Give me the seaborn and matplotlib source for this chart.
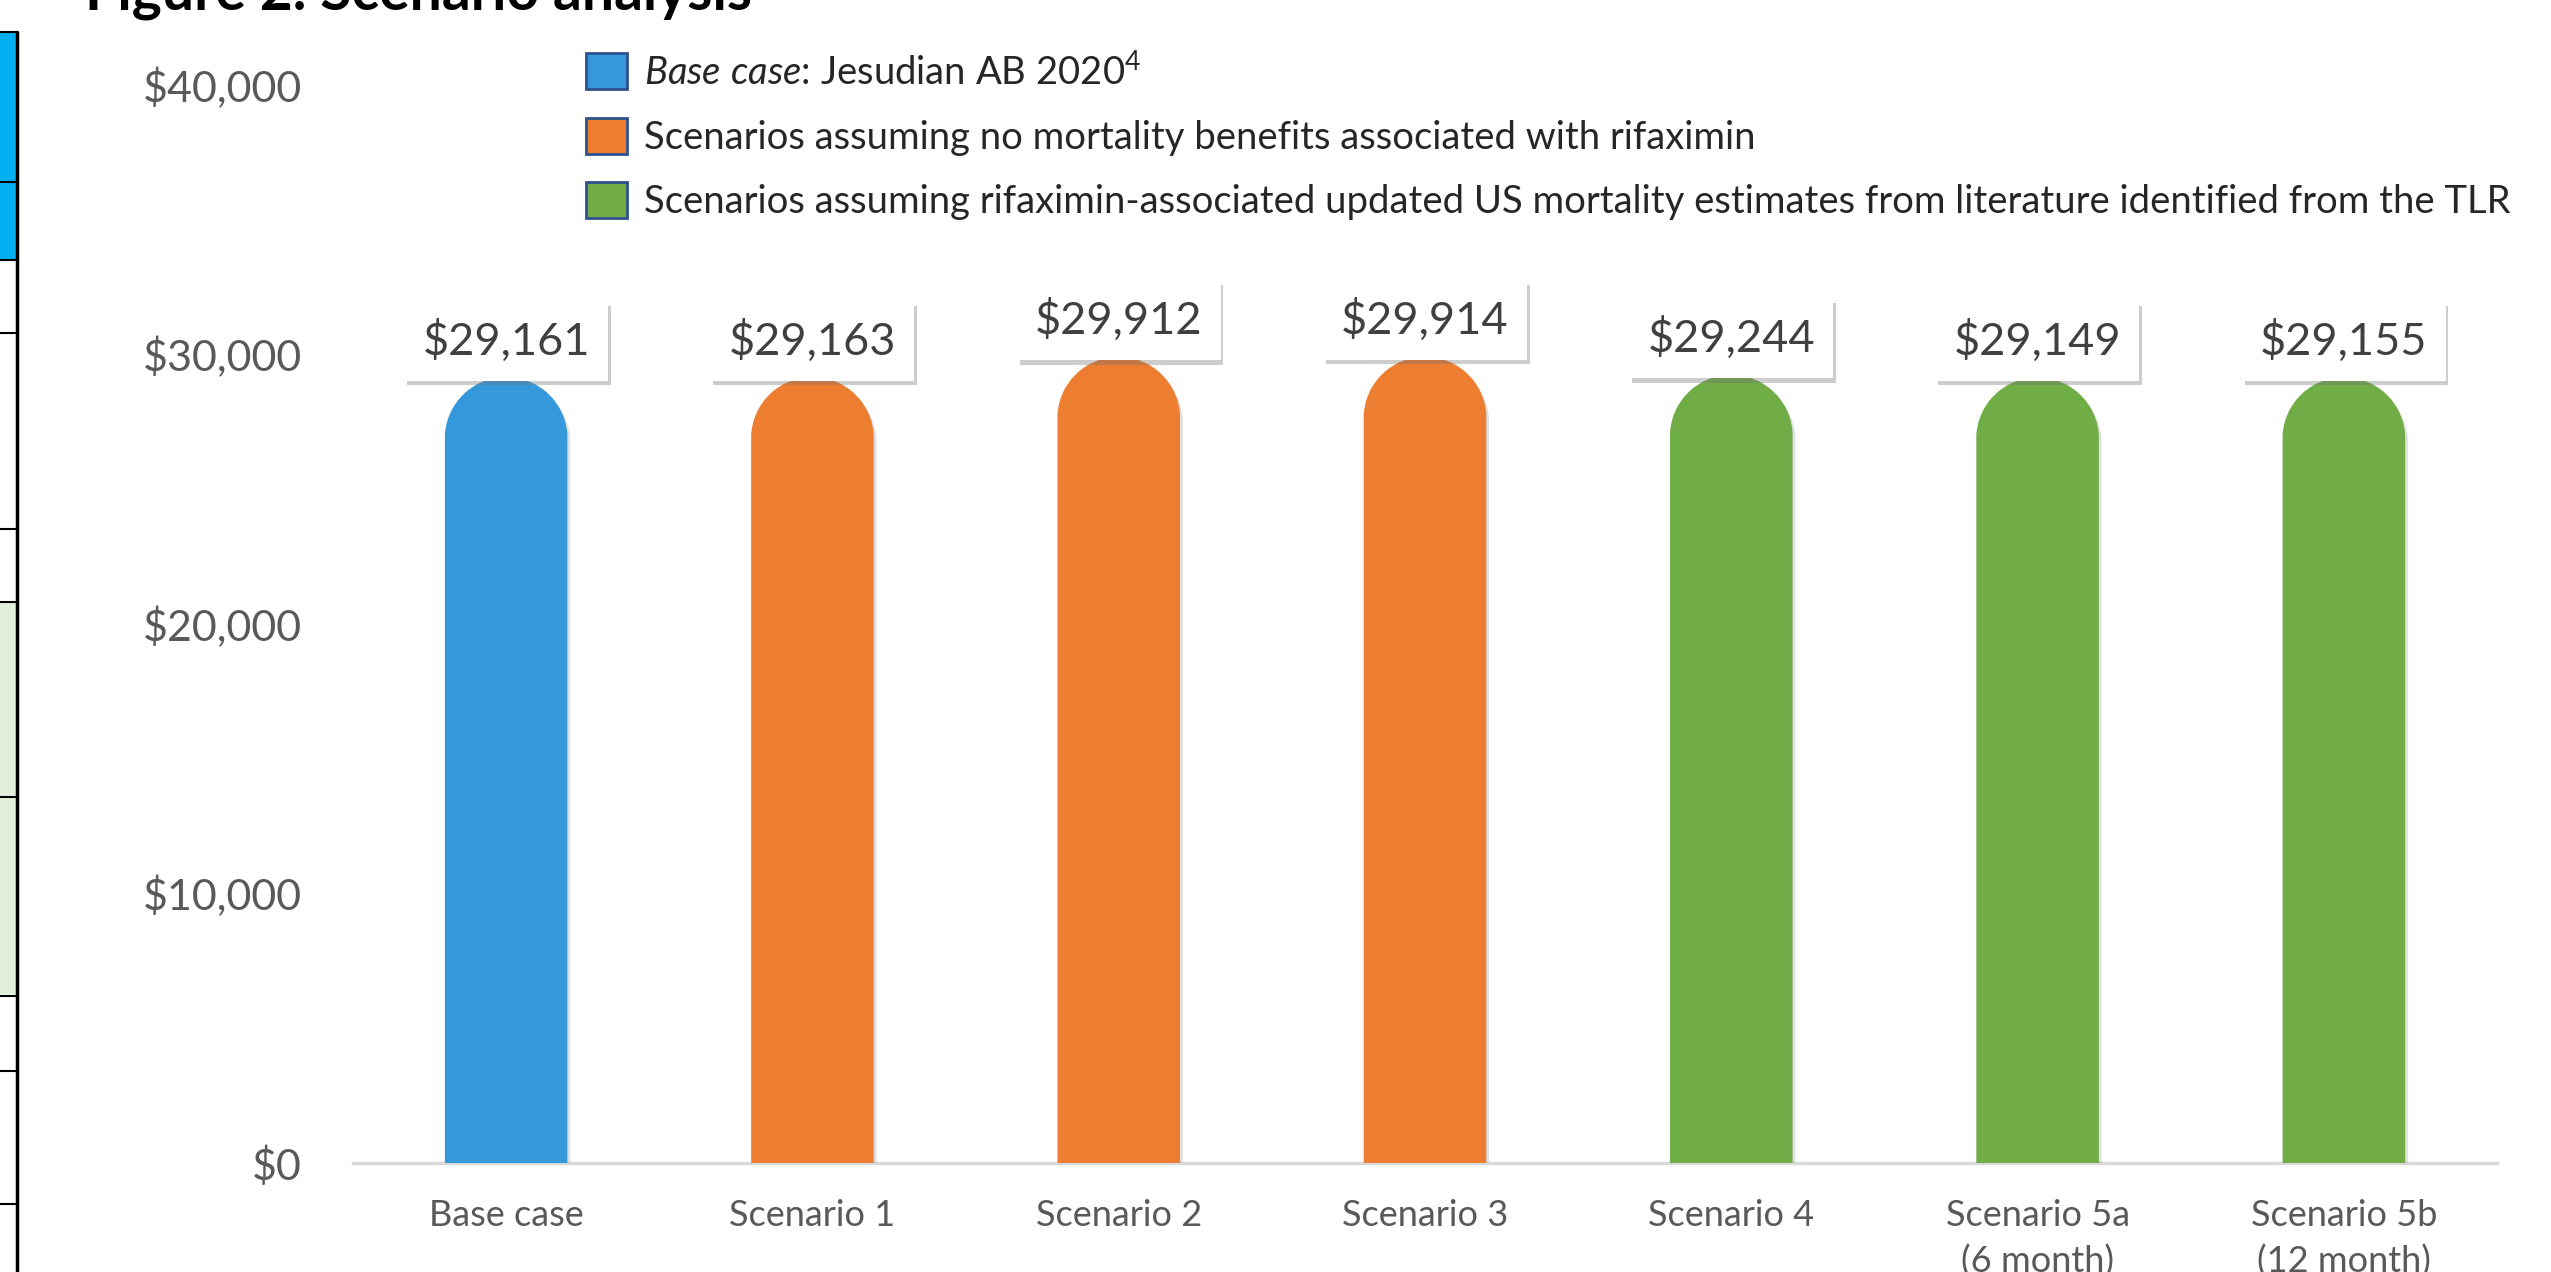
import numpy as np
import pandas as pd
import seaborn as sns
import matplotlib
matplotlib.use("Agg")
import matplotlib.pyplot as plt
from matplotlib.patches import Patch, PathPatch, Rectangle
from matplotlib.path import Path
from matplotlib.transforms import Affine2D
import matplotlib.patheffects as pe
from matplotlib.ticker import FixedLocator, FuncFormatter

# ---------------- data ----------------
categories = ["Base case", "Scenario 1", "Scenario 2", "Scenario 3",
              "Scenario 4", "Scenario 5a\n(6 month)", "Scenario 5b\n(12 month)"]
values = [29161, 29163, 29912, 29914, 29244, 29149, 29155]
groups = ["base", "nomort", "nomort", "nomort", "updated", "updated", "updated"]
group_colors = {"base": "#3498DB", "nomort": "#ED7D31", "updated": "#70AD47"}
legend_labels = [r"$\mathit{Base\ case}$: Jesudian AB 2020$^{4}$",
                 "Scenarios assuming no mortality benefits associated with rifaximin",
                 "Scenarios assuming rifaximin-associated updated US mortality estimates from literature identified from the TLR"]
y_ticks = [0, 10000, 20000, 30000, 40000]
title = "Figure 2. Scenario analysis"

# ---------------- style ----------------
sns.set_theme(style="white")
FONT = "Lato"
plt.rcParams["font.family"] = [FONT, "DejaVu Sans"]
plt.rcParams["mathtext.fontset"] = "custom"
plt.rcParams["mathtext.rm"] = FONT
plt.rcParams["mathtext.it"] = FONT + ":italic"
plt.rcParams["mathtext.bf"] = FONT + ":bold"

W, H, DPI = 2551, 1272, 100
fig = plt.figure(figsize=(W / DPI, H / DPI), dpi=DPI)
fig.patch.set_facecolor("white")
ax = fig.add_axes([353 / W, 1 - 1163 / H, (2497 - 353) / W, (1163 - 85) / H])

df = pd.DataFrame({"cat": categories, "val": values, "grp": groups})
sns.barplot(data=df, x="cat", y="val", hue="grp", palette=group_colors,
            dodge=False, width=0.4, legend=False, ax=ax, saturation=1)

ax.set_xlim(-0.5, len(categories) - 0.5)
ax.set_ylim(0, 40000)
ax.set_xlabel("")
ax.set_ylabel("")

# rounded-top bars
fig.canvas.draw()
px_per_y = (ax.transData.transform((0, 1)) - ax.transData.transform((0, 0)))[1]
px_per_x = (ax.transData.transform((1, 0)) - ax.transData.transform((0, 0)))[0]
rects = [p for p in list(ax.patches) if p.get_height() > 0 and p.get_width() > 0]
for r in rects:
    x0, w, h = r.get_x(), r.get_width(), r.get_height()
    fc = r.get_facecolor()
    ry = (w * px_per_x / 2) / px_per_y
    arc = Path.arc(0, 180, n=16)
    arc = arc.transformed(Affine2D().scale(w / 2, ry).translate(x0 + w / 2, h - ry))
    verts = [(x0, 0), (x0 + w, 0), (x0 + w, h - ry)] + list(arc.vertices[1:]) + [(x0, 0)]
    codes = [Path.MOVETO, Path.LINETO, Path.LINETO] + [Path.LINETO] * (len(arc.vertices) - 1) + [Path.CLOSEPOLY]
    pp = PathPatch(Path(verts, codes), facecolor=fc, edgecolor="none", zorder=3)
    pp.set_path_effects([pe.SimplePatchShadow(offset=(2, -3), shadow_rgbFace="#808080", alpha=0.25),
                         pe.Normal()])
    ax.add_patch(pp)
    r.remove()

# data labels
for i, v in enumerate(values):
    t = ax.annotate(f"${v:,}", xy=(i, v), xytext=(0, 26), textcoords="offset points",
                    ha="center", va="center", fontsize=32.5, color="#404040", zorder=5,
                    bbox=dict(boxstyle="square,pad=0.4", fc="white", ec="none"))
    t.get_bbox_patch().set_path_effects([pe.SimplePatchShadow(offset=(2, -3), shadow_rgbFace="#707070", alpha=0.35),
                                         pe.Normal()])

# axes styling
for s in ["left", "right", "top"]:
    ax.spines[s].set_visible(False)
ax.spines["bottom"].set_color("#D9D9D9")
ax.spines["bottom"].set_linewidth(2.5)
ax.yaxis.set_major_locator(FixedLocator(y_ticks))
ax.yaxis.set_major_formatter(FuncFormatter(lambda v, p: f"${int(v):,}"))
ax.tick_params(axis="y", length=0, pad=37, labelsize=31, labelcolor="#595959")
ax.tick_params(axis="x", which="major", length=0, pad=26, labelsize=26, labelcolor="#595959")
ax.xaxis.set_minor_locator(FixedLocator(np.arange(-0.5, len(categories), 1.0)))
ax.tick_params(axis="x", which="minor", length=10, width=1.5, color="#D9D9D9", direction="out")
for lab in ax.get_xticklabels():
    lab.set_linespacing(1.45)
ax.grid(False)

# legend
handles = [Patch(facecolor=group_colors[g], edgecolor="#2F528F", linewidth=2)
           for g in ["base", "nomort", "updated"]]
fig.legend(handles, legend_labels, loc="upper left", bbox_to_anchor=(586 / W, 1 - 53 / H),
           frameon=False, fontsize=27.5, handlelength=1.07, handleheight=1.07,
           handletextpad=0.45, labelspacing=0.69, borderpad=0, borderaxespad=0)

# title (cropped at top)
fig.text(85 / W, 1 - 10 / H, title, fontsize=41, fontweight="bold", color="black",
         ha="left", va="baseline")

# left table fragment
def fy(px):
    return 1 - px / H
tx = 17 / W
fig.add_artist(Rectangle((0, fy(260)), tx, fy(32) - fy(260), transform=fig.transFigure,
                         facecolor="#00B0F0", edgecolor="none"))
fig.add_artist(Rectangle((0, fy(994)), tx, fy(602) - fy(994), transform=fig.transFigure,
                         facecolor="#E2EFDA", edgecolor="none"))
for yy in [32, 182, 260, 333, 529, 602, 797, 996, 1071, 1204]:
    fig.add_artist(plt.Line2D([0, tx], [fy(yy), fy(yy)], transform=fig.transFigure,
                              color="black", linewidth=1.5))
fig.add_artist(plt.Line2D([tx, tx], [fy(32), 0], transform=fig.transFigure,
                          color="black", linewidth=2.5))

fig.savefig("out.png", dpi=DPI, facecolor="white")
